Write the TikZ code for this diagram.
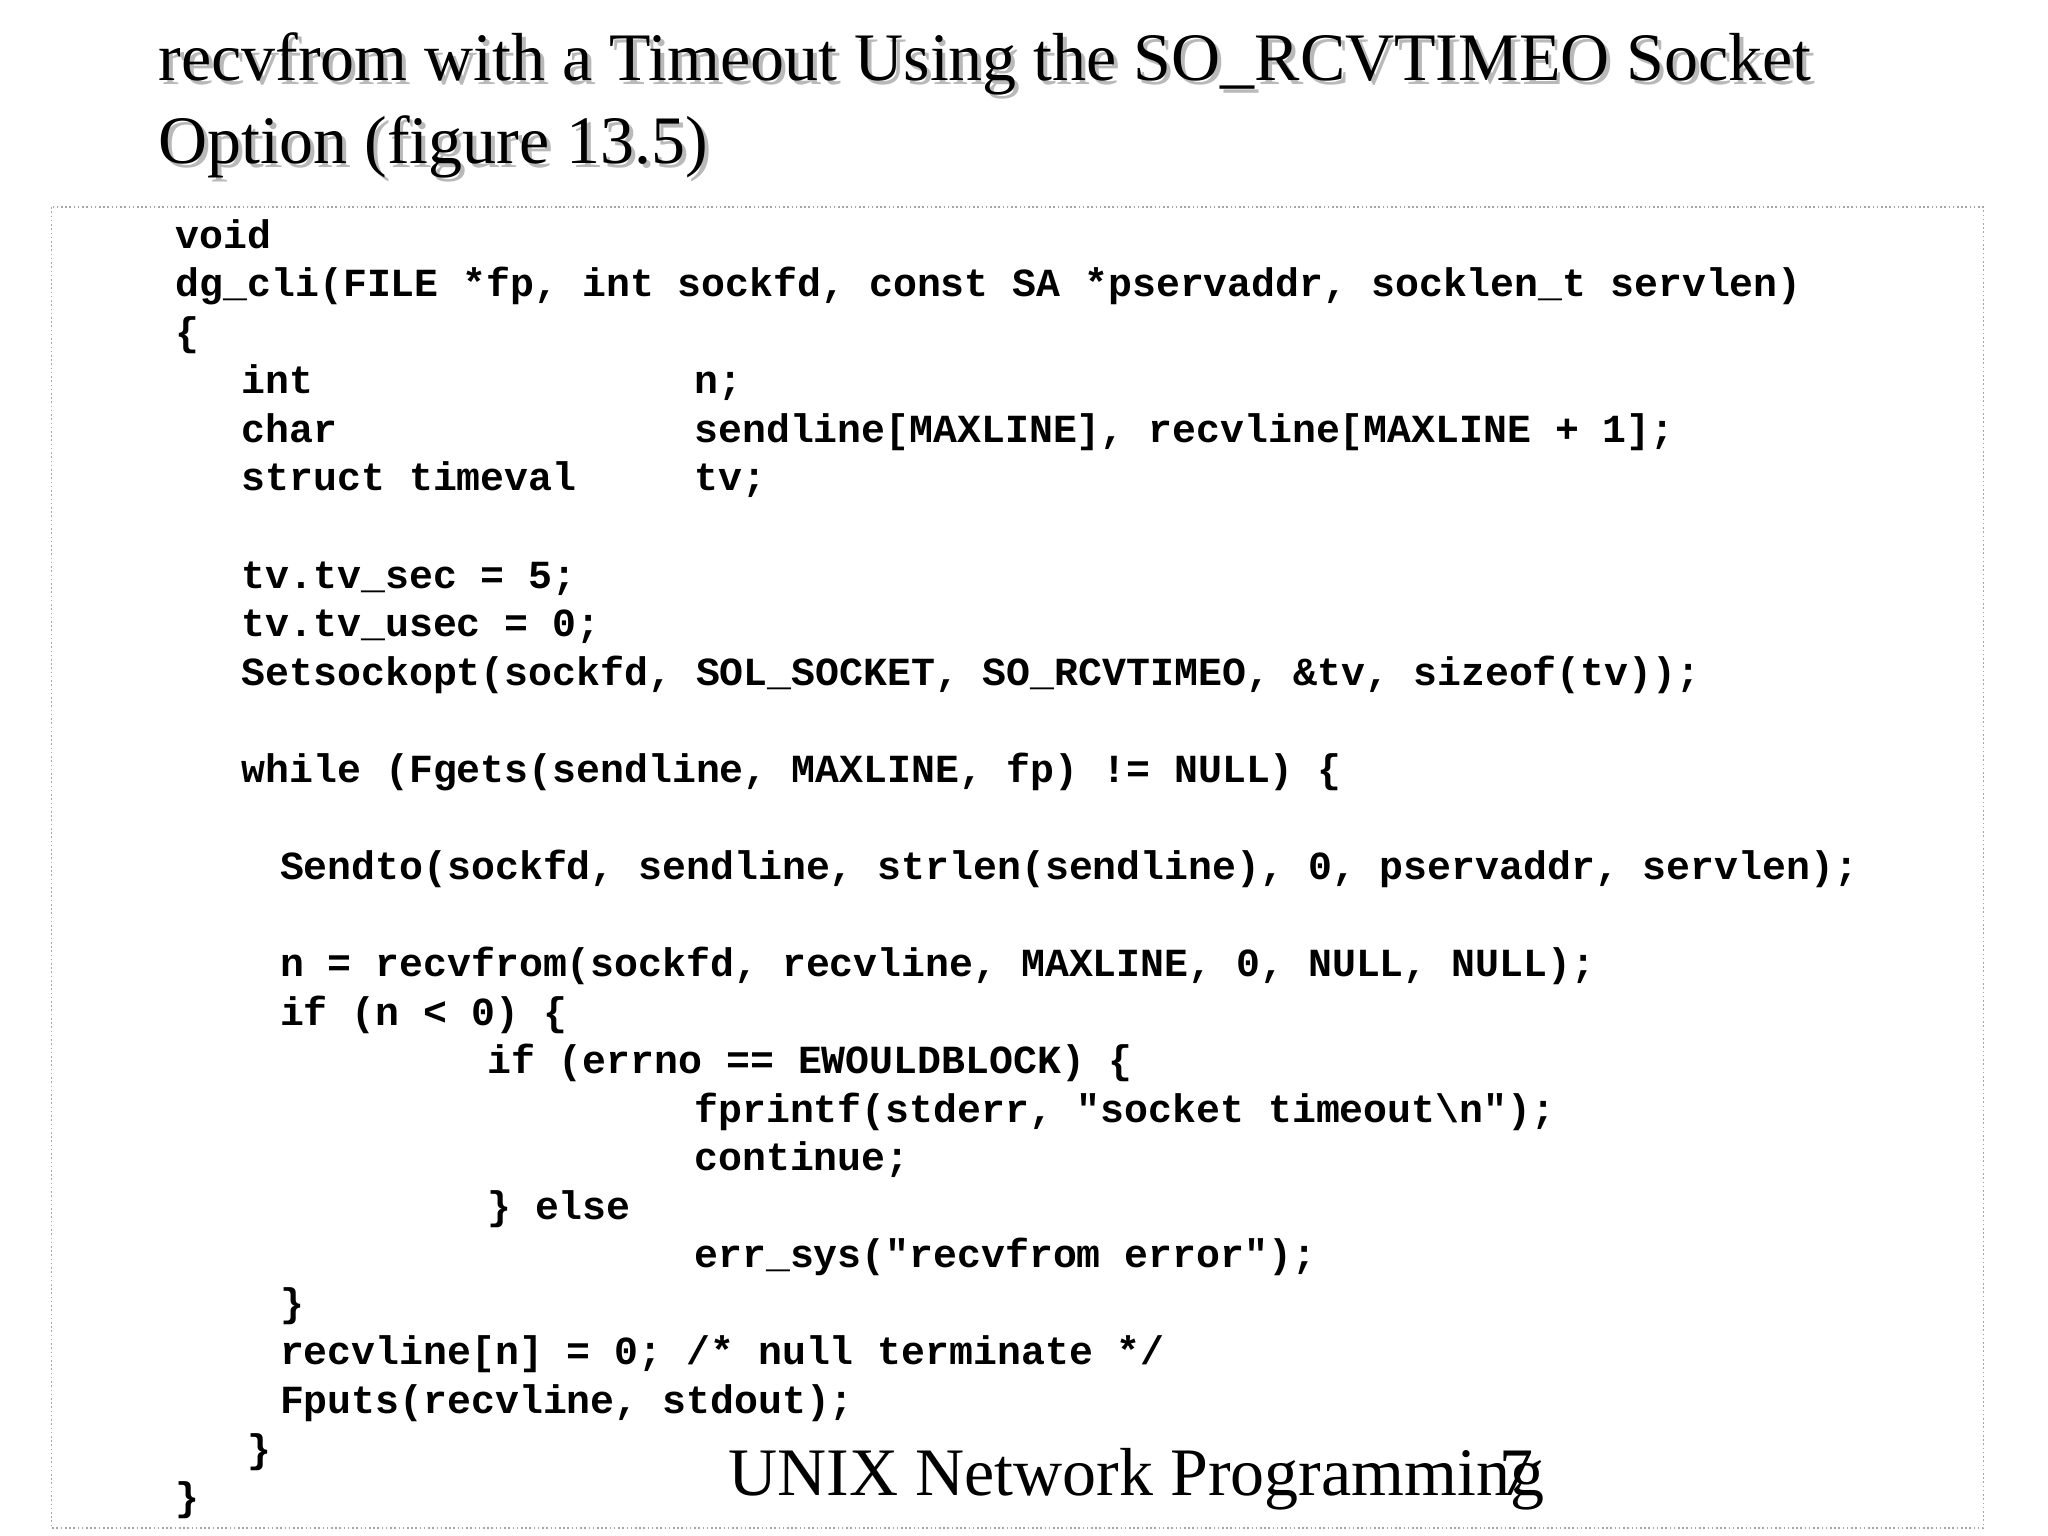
\documentclass[tikz,border=0pt]{standalone}
\usepackage{fontspec}
\setmainfont{Liberation Serif}
\newfontfamily\codefont{Liberation Mono}
\begin{document}
\begin{tikzpicture}[x=1pt,y=-1pt,
  code/.style={anchor=base west,inner sep=0pt,font=\codefont\bfseries\fontsize{30.2}{36.8}\selectfont},
  ttl/.style={anchor=base west,inner sep=0pt,font=\fontsize{51.5}{60}\selectfont}]
\useasboundingbox[fill=white] (0,0) rectangle (1552,1164);
\draw[gray!70,dotted,line width=1.2pt] (39,157) rectangle (1503,1158);
% title with shadow
\foreach \c/\d in {gray!55/3,black/0}{
 \node[ttl,text=\c] (t1\d) at (120+\d,61+\d) {recvfrom with a Timeout Using the SO\_RCVTIMEO Socket};
 \node[ttl,text=\c] (t2\d) at (120+\d,124+\d) {Option (figure 13.5)};
}
\def\ln#1{188+36.8*#1}
\node[code] (l0) at (133,{\ln{0}}) {void};
\node[code] (l1) at (133,{\ln{1}}) {dg\_cli(FILE *fp, int sockfd, const SA *pservaddr, socklen\_t servlen)};
\node[code] (l2) at (133,{\ln{2}}) {\{};
\node[code] (l3a) at (183,{\ln{3}}) {int};
\node[code] (l3b) at (526,{\ln{3}}) {n;};
\node[code] (l4a) at (183,{\ln{4}}) {char};
\node[code] (l4b) at (526,{\ln{4}}) {sendline[MAXLINE], recvline[MAXLINE + 1];};
\node[code] (l5a) at (183,{\ln{5}}) {struct timeval};
\node[code] (l5b) at (526,{\ln{5}}) {tv;};
\node[code] (l7) at (183,{\ln{7}}) {tv.tv\_sec = 5;};
\node[code] (l8) at (183,{\ln{8}}) {tv.tv\_usec = 0;};
\node[code] (l9) at (183,{\ln{9}}) {Setsockopt(sockfd, SOL\_SOCKET, SO\_RCVTIMEO, \&tv, sizeof(tv));};
\node[code] (l11) at (183,{\ln{11}}) {while (Fgets(sendline, MAXLINE, fp) != NULL) \{};
\node[code] (l13) at (212,{\ln{13}}) {Sendto(sockfd, sendline, strlen(sendline), 0, pservaddr, servlen);};
\node[code] (l15) at (212,{\ln{15}}) {n = recvfrom(sockfd, recvline, MAXLINE, 0, NULL, NULL);};
\node[code] (l16) at (212,{\ln{16}}) {if (n < 0) \{};
\node[code] (l17) at (369,{\ln{17}}) {if (errno == EWOULDBLOCK) \{};
\node[code] (l18) at (526,{\ln{18}}) {fprintf(stderr, "socket timeout\textbackslash n");};
\node[code] (l19) at (526,{\ln{19}}) {continue;};
\node[code] (l20) at (369,{\ln{20}}) {\} else};
\node[code] (l21) at (526,{\ln{21}}) {err\_sys("recvfrom error");};
\node[code] (l22) at (212,{\ln{22}}) {\}};
\node[code] (l23) at (212,{\ln{23}}) {recvline[n] = 0; /* null terminate */};
\node[code] (l24) at (212,{\ln{24}}) {Fputs(recvline, stdout);};
\node[code] (l25) at (187,{\ln{25}}) {\}};
\node[code] (l26) at (133,{\ln{26}}) {\}};
\node[ttl] (foot) at (552,1133) {UNIX Network Programming};
\node[ttl] (pg) at (1136,1133) {7};
\end{tikzpicture}
\end{document}
